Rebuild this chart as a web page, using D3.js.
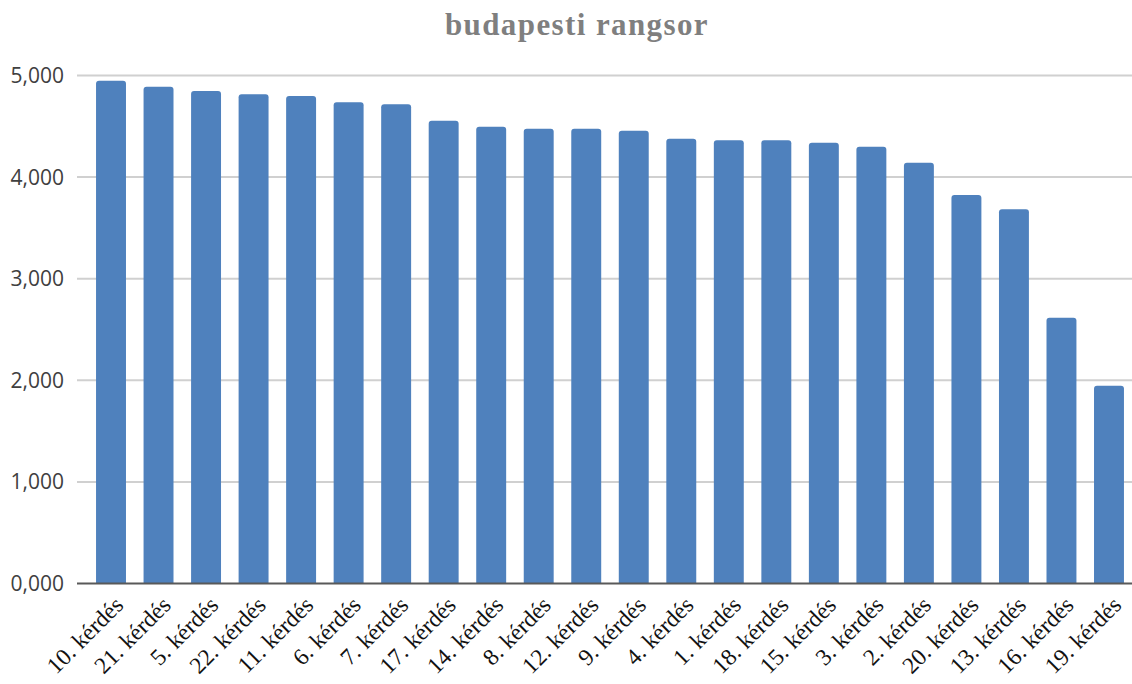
<!DOCTYPE html>
<html>
<head>
<meta charset="utf-8">
<script src="https://cdn.jsdelivr.net/npm/d3@7"></script>
<style>
  body { margin: 0; background: #fff; }
  .title { font-family: "Liberation Serif", "DejaVu Serif", serif; font-weight: bold; fill: #7f7f7f; }
  .ylab { font-family: "Open Sans", "Liberation Sans", sans-serif; fill: #404040; }
  .xlab { font-family: "Liberation Serif", "DejaVu Serif", serif; fill: #111; }
</style>
</head>
<body>
<script>
var w = 1132,
    h = 684;

var questions = ['10. kérdés', '21. kérdés', '5. kérdés', '22. kérdés', '11. kérdés', '6. kérdés',
                 '7. kérdés', '17. kérdés', '14. kérdés', '8. kérdés', '12. kérdés', '9. kérdés',
                 '4. kérdés', '1. kérdés', '18. kérdés', '15. kérdés', '3. kérdés', '2. kérdés',
                 '20. kérdés', '13. kérdés', '16. kérdés', '19. kérdés'];
var scores = [4.949, 4.890, 4.847, 4.815, 4.798, 4.736,
              4.717, 4.555, 4.496, 4.476, 4.476, 4.457,
              4.378, 4.362, 4.362, 4.339, 4.299, 4.142,
              3.824, 3.683, 2.616, 1.947];
var yTicks = [0, 1, 2, 3, 4, 5];
var yTickLabels = ['0,000', '1,000', '2,000', '3,000', '4,000', '5,000'];

var x = d3.scaleBand()
          .domain(questions)
          .range([87.25, 1132.75])
          .paddingInner(0.37)
          .paddingOuter(0.185);

var y = d3.scaleLinear()
          .domain([0, 5])
          .range([583.5, 75.5]);

var svg = d3.select("body")
          .append("svg")
          .attr("width", w)
          .attr("height", h);

svg.append('text')
   .attr("class", "title")
   .attr("x", 577)
   .attr("y", 35)
   .attr("text-anchor", "middle")
   .style("font-size", "31px")
   .style("letter-spacing", "1.4px")
   .text("budapesti rangsor");

// gridlines
svg.append('g')
   .selectAll('line')
   .data(yTicks.slice(1))
   .join('line')
   .attr("x1", 77)
   .attr("x2", w)
   .attr("y1", d => y(d))
   .attr("y2", d => y(d))
   .attr("stroke", "#d0d0d0")
   .attr("stroke-width", 2);

// y labels
svg.append('g')
   .selectAll('text')
   .data(yTicks)
   .join('text')
   .attr("class", "ylab")
   .attr("x", 64)
   .attr("y", d => y(d))
   .attr("dy", "0.36em")
   .attr("text-anchor", "end")
   .style("font-size", "21px")
   .text((d, i) => yTickLabels[i]);

// bars with slightly rounded tops
function barPath(d, i) {
  var x0 = x(questions[i]), bw = x.bandwidth(), yt = y(d), yb = y(0), r = 3;
  return 'M' + x0 + ',' + yb +
         'V' + (yt + r) +
         'Q' + x0 + ',' + yt + ' ' + (x0 + r) + ',' + yt +
         'H' + (x0 + bw - r) +
         'Q' + (x0 + bw) + ',' + yt + ' ' + (x0 + bw) + ',' + (yt + r) +
         'V' + yb + 'Z';
}

svg.append('g')
   .selectAll('path')
   .data(scores)
   .join('path')
   .attr("d", barPath)
   .attr("fill", "#4f81bd");

// baseline
svg.append('line')
   .attr("x1", 77)
   .attr("x2", w)
   .attr("y1", y(0))
   .attr("y2", y(0))
   .attr("stroke", "#595959")
   .attr("stroke-width", 2);

// x labels
svg.append('g')
   .selectAll('text')
   .data(questions)
   .join('text')
   .attr("class", "xlab")
   .attr("text-anchor", "end")
   .attr("transform", d => 'translate(' + (x(d) + x.bandwidth() / 2 + 2) + ',' + 595 + ') rotate(-45)')
   .attr("dy", "0.7em")
   .style("font-size", "23.5px")
   .text(d => d);
</script>
</body>
</html>
